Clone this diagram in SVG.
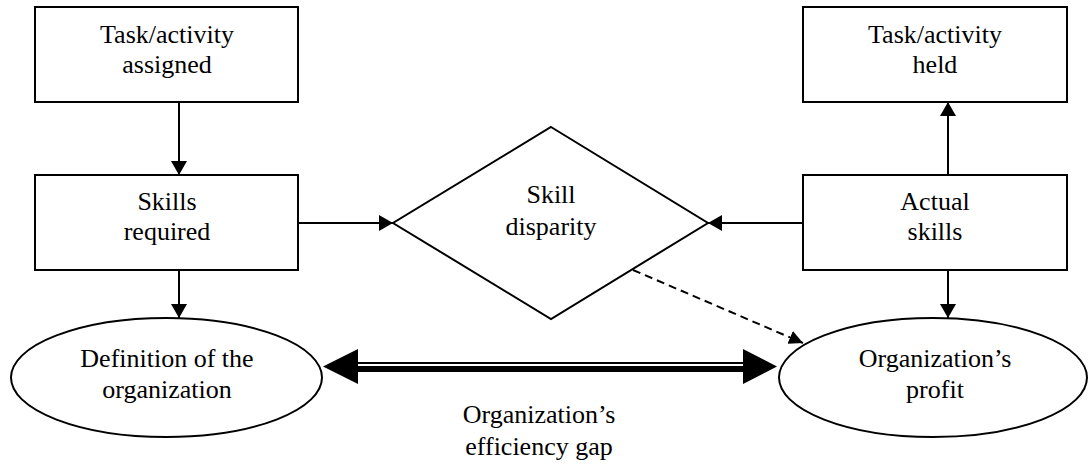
<svg xmlns="http://www.w3.org/2000/svg" width="1088" height="465" viewBox="0 0 1088 465">
<style>
.n{fill:#fff;stroke:#000;stroke-width:2}
.t{font-family:"Liberation Serif","Times New Roman",serif;font-size:26px;fill:#000;text-anchor:middle}
.c{stroke:#000;stroke-width:2;fill:none}
.d{stroke:#000;stroke-width:2;fill:none;stroke-dasharray:8 5}
</style>
<defs>
<marker id="ah" markerUnits="userSpaceOnUse" markerWidth="16" markerHeight="16" viewBox="0 0 14 16" refX="14" refY="8" orient="auto">
<path d="M0,0 L14,8 L0,16 Z" fill="#000"/>
</marker>
<marker id="sh" markerUnits="userSpaceOnUse" markerWidth="14" markerHeight="14" viewBox="0 0 12 12" refX="12" refY="6" orient="auto">
<path d="M0,0 L12,6 L0,12 Z" fill="#000"/>
</marker>
</defs>
<rect width="1088" height="465" fill="#fff"/>
<g id="connectors">
<line class="c" x1="179" y1="102" x2="179" y2="175" marker-end="url(#ah)"/>
<line class="c" x1="179" y1="270" x2="179" y2="318" marker-end="url(#ah)"/>
<line class="c" x1="298" y1="223" x2="393" y2="223" marker-end="url(#ah)"/>
<line class="c" x1="803" y1="223" x2="708" y2="223" marker-end="url(#ah)"/>
<line class="c" x1="948" y1="175" x2="948" y2="102" marker-end="url(#ah)"/>
<line class="c" x1="948" y1="270" x2="948" y2="318" marker-end="url(#ah)"/>
<line class="d" x1="633" y1="270" x2="803" y2="343" marker-end="url(#sh)"/>
<g id="gap-arrow">
<line x1="357" y1="363" x2="744" y2="363" stroke="#000" stroke-width="2"/>
<line x1="357" y1="369" x2="744" y2="369" stroke="#000" stroke-width="6"/>
<path d="M323,366.5 L358,349 L358,384 Z" fill="#000"/>
<path d="M777,366.5 L743,349 L743,384 Z" fill="#000"/>
</g>
</g>
<g id="task-assigned">
<rect class="n" x="35" y="7" width="263" height="95"/>
<text class="t" x="167" y="43">Task/activity</text>
<text class="t" x="167" y="73">assigned</text>
</g>
<g id="skills-required">
<rect class="n" x="35" y="175" width="263" height="95"/>
<text class="t" x="167" y="210">Skills</text>
<text class="t" x="167" y="240">required</text>
</g>
<g id="definition">
<ellipse class="n" cx="166.5" cy="377.5" rx="155.5" ry="59.5"/>
<text class="t" x="167" y="367">Definition of the</text>
<text class="t" x="167" y="398">organization</text>
</g>
<g id="skill-disparity">
<path class="n" d="M551,127 L708,223 L551,319 L393,223 Z"/>
<text class="t" x="551" y="203">Skill</text>
<text class="t" x="551" y="235">disparity</text>
</g>
<g id="task-held">
<rect class="n" x="803" y="7" width="264" height="95"/>
<text class="t" x="935" y="43">Task/activity</text>
<text class="t" x="935" y="73">held</text>
</g>
<g id="actual-skills">
<rect class="n" x="803" y="175" width="264" height="95"/>
<text class="t" x="935" y="210">Actual</text>
<text class="t" x="935" y="240">skills</text>
</g>
<g id="profit">
<ellipse class="n" cx="933" cy="377.5" rx="154" ry="59.5"/>
<text class="t" x="935" y="367">Organization’s</text>
<text class="t" x="935" y="398">profit</text>
</g>
<g id="gap-label">
<text class="t" x="539" y="423">Organization’s</text>
<text class="t" x="539" y="455">efficiency gap</text>
</g>
</svg>
